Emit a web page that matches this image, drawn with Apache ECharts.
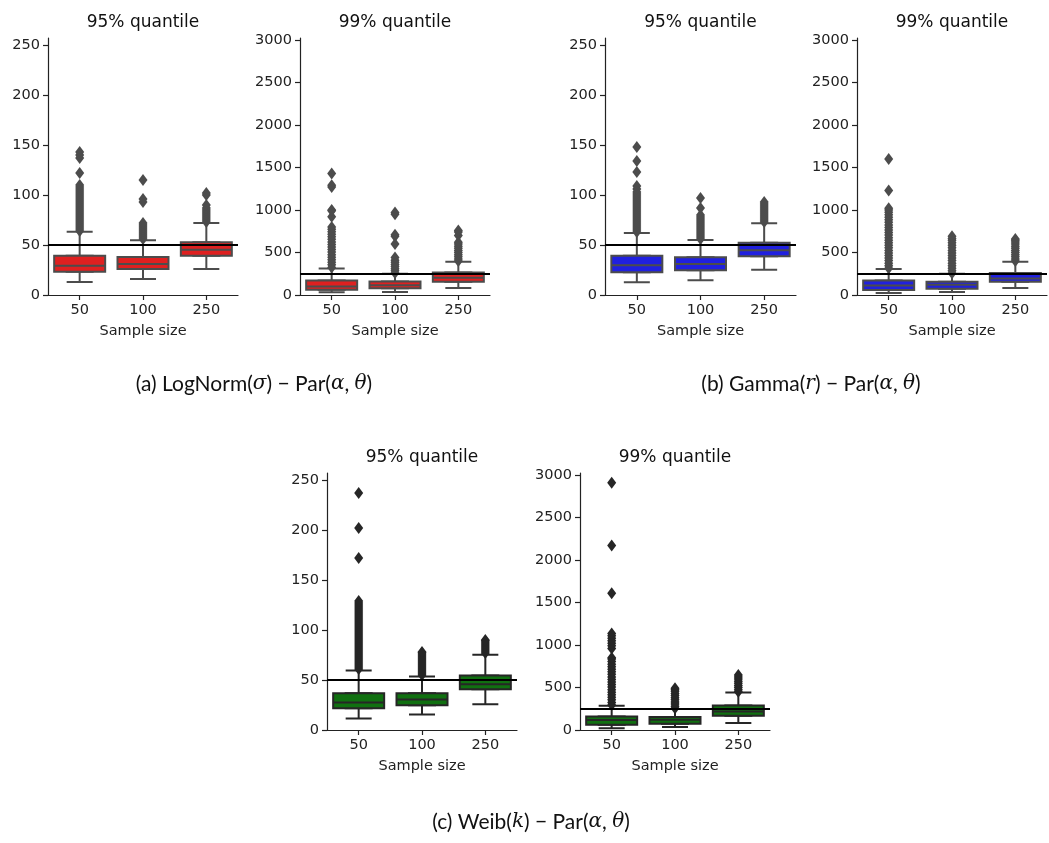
<!DOCTYPE html>
<html><head><meta charset="utf-8">
<script src="https://cdn.jsdelivr.net/npm/echarts@6/dist/echarts.min.js"></script>
<style>html,body{margin:0;padding:0;background:#fff}#c{width:1049px;height:843px}</style>
</head><body><div id="c"></div>
<script>
const categories = ['50', '100', '250'];
const yTicks95 = [0, 50, 100, 150, 200, 250];
const yTicks99 = [0, 500, 1000, 1500, 2000, 2500, 3000];
const yMax95 = 257;
const yMax99 = 3024;
const trueValue95 = 50;
const trueValue99 = 250;
const panelTitles = ['95% quantile', '99% quantile'];
const captions = ['(a) LogNorm({i|σ}) − Par({i|α}, {i|θ})', '(b) Gamma({i|r}) − Par({i|α}, {i|θ})', '(c) Weib({i|k}) − Par({i|α}, {i|θ})'];

// [lower whisker, Q1, median, Q3, upper whisker] per sample size
const statsA95 = [[13, 23.3, 29.3, 39.3, 63.3], [16, 26, 31, 38, 54.7], [26, 39.3, 45.3, 52.7, 72]];
const statsA99 = [[31, 62, 100, 170, 312], [35, 78, 115, 160, 250], [82, 156, 203, 266, 390]];
const statsB95 = [[12.7, 22.7, 29.7, 39.3, 62], [14.7, 24.7, 31, 37.7, 55], [25.3, 38.7, 44.7, 52.3, 71.7]];
const statsB99 = [[23, 59, 113, 172, 305], [35, 74, 120, 156, 250], [82, 156, 195, 258, 390]];
const statsC95 = [[11.4, 21.7, 27.4, 36.8, 59.5], [15.4, 24.7, 30.4, 36.8, 53.5], [25.7, 40.8, 45.8, 54.5, 75.2]];
const statsC99 = [[20, 62, 117, 160, 285], [35, 74, 121, 152, 246], [82, 168, 219, 289, 441]];

// outliers per sample size
const outliersA95 = [
  [64,66,68,70,72,74,76,78,80,82,84,86,88,90,92,94,96,98,100,102,104,106,108,110,122,137,140,143],
  [56,58,60,62,64,66,68,70,72,93,96,115],
  [73,75,77,79,81,83,85,87,90,100,102]
];
const outliersA99 = [
  [325,355,385,415,445,475,505,535,565,595,625,655,685,715,745,775,800,920,990,1000,1270,1290,1430],
  [260,285,310,335,360,385,410,440,600,690,710,950,970],
  [400,425,450,475,500,525,550,575,600,620,700,740,760]
];
const outliersB95 = [
  [63,65,67,69,71,73,75,77,79,81,83,85,87,89,91,93,95,97,99,101,103,106,109,123,134,148],
  [56,58,60,62,64,66,68,70,72,74,76,78,80,87,97],
  [73,75,77,79,81,83,85,87,89,91,93]
];
const outliersB99 = [
  [315,345,375,405,435,465,495,525,555,585,615,645,675,705,735,765,795,825,855,885,915,945,975,1000,1020,1230,1600],
  [255,285,315,345,375,405,435,465,495,525,555,585,615,645,665,690],
  [400,425,450,475,500,525,550,575,600,625,645,660]
];
const outliersC95 = [
  [61,63,65,67,69,71,73,75,77,79,81,83,85,87,89,91,93,95,97,99,101,103,105,107,109,111,113,115,117,119,121,123,125,127,129,172,202,237],
  [55,57,59,61,63,65,67,69,71,73,75,77,78],
  [77,79,81,83,85,87,89,90]
];
const outliersC99 = [
  [295,325,355,385,415,445,475,505,535,565,595,625,655,685,715,745,775,805,835,850,960,990,1020,1050,1080,1110,1135,1610,2170,2910],
  [255,280,305,330,355,380,405,430,455,475,490],
  [450,475,500,525,550,575,600,625,648]
];

const panels = [
  {stats: statsA95, out: outliersA95, q: 0, fill: '#df2020', line: '#4c4c4c'},
  {stats: statsA99, out: outliersA99, q: 1, fill: '#df2020', line: '#4c4c4c'},
  {stats: statsB95, out: outliersB95, q: 0, fill: '#2020df', line: '#4c4c4c'},
  {stats: statsB99, out: outliersB99, q: 1, fill: '#2020df', line: '#4c4c4c'},
  {stats: statsC95, out: outliersC95, q: 0, fill: '#107010', line: '#262626'},
  {stats: statsC99, out: outliersC99, q: 1, fill: '#107010', line: '#262626'}
];
const layout = [
  {left: 48, top: 38, width: 190, height: 257},
  {left: 300, top: 38, width: 190, height: 257},
  {left: 605, top: 38, width: 191, height: 257},
  {left: 857, top: 38, width: 190, height: 257},
  {left: 327, top: 473, width: 190, height: 257},
  {left: 580, top: 473, width: 190, height: 257}
];
const captionPos = [[254, 384], [811, 384], [531, 822]];

const axisColor = '#222';
const FONT = 'DejaVu Sans';
const grid = [], xAxis = [], yAxis = [], series = [], graphic = [];

panels.forEach((p, i) => {
  const L = layout[i];
  grid.push({left: L.left, top: L.top, width: L.width, height: L.height, outerBoundsMode: 'none', containLabel: false});
  xAxis.push({
    gridIndex: i, type: 'category', data: categories, boundaryGap: true,
    axisLine: {show: true, lineStyle: {color: axisColor, width: 1.2}},
    axisTick: {show: true, alignWithLabel: true, length: 5, lineStyle: {color: axisColor, width: 1.2}},
    axisLabel: {fontSize: 14.5, color: axisColor, margin: 8, fontFamily: FONT},
    splitLine: {show: false},
    name: 'Sample size', nameLocation: 'middle', nameGap: 29,
    nameTextStyle: {fontSize: 14.5, color: axisColor, fontFamily: FONT}
  });
  xAxis.push({gridIndex: i, type: 'category', data: categories, boundaryGap: true, show: false});
  const ticks = p.q === 0 ? yTicks95 : yTicks99;
  yAxis.push({
    gridIndex: i, type: 'value', min: 0, max: p.q === 0 ? yMax95 : yMax99,
    interval: p.q === 0 ? 50 : 500,
    axisLine: {show: true, lineStyle: {color: axisColor, width: 1.2}},
    axisTick: {show: true, length: 5, customValues: ticks, lineStyle: {color: axisColor, width: 1.2}},
    axisLabel: {customValues: ticks, fontSize: 14.5, color: axisColor, margin: 8, fontFamily: FONT,
      formatter: v => String(v)},
    splitLine: {show: false}
  });
  const style = {color: p.fill, borderColor: p.line, borderWidth: 2};
  series.push({
    type: 'boxplot', xAxisIndex: 2 * i, yAxisIndex: i, boxWidth: [26, 26],
    data: p.stats, itemStyle: style, silent: true, animation: false
  });
  series.push({
    type: 'boxplot', xAxisIndex: 2 * i + 1, yAxisIndex: i, boxWidth: [51, 51],
    data: p.stats.map(s => [s[1], s[1], s[2], s[3], s[3]]), itemStyle: style, silent: true, animation: false
  });
  const pts = [];
  p.out.forEach((arr, c) => arr.forEach(v => pts.push([c, v])));
  series.push({
    type: 'scatter', xAxisIndex: 2 * i, yAxisIndex: i, symbol: 'diamond', symbolSize: [9, 12],
    data: pts, itemStyle: {color: p.line, opacity: 1}, silent: true, animation: false,
    markLine: {
      silent: true, symbol: ['none', 'none'], label: {show: false}, animation: false,
      lineStyle: {color: '#000', width: 2, type: 'solid'},
      data: [{yAxis: p.q === 0 ? trueValue95 : trueValue99}]
    }
  });
  graphic.push({
    type: 'text', x: L.left + L.width / 2, y: L.top - 15,
    style: {text: panelTitles[p.q], font: '17px "DejaVu Sans"', fill: '#111',
      align: 'center', verticalAlign: 'middle', textAlign: 'center', textVerticalAlign: 'middle'}
  });
});

captions.forEach((t, k) => {
  graphic.push({
    type: 'text', x: captionPos[k][0], y: captionPos[k][1],
    style: {text: t, font: '21px Lato', fill: '#111',
      align: 'center', verticalAlign: 'middle', textAlign: 'center', textVerticalAlign: 'middle',
      rich: {i: {fontStyle: 'italic', fontFamily: 'DejaVu Serif', fontSize: 20, fill: '#111'}}}
  });
});

const chart = echarts.init(document.getElementById('c'), null, {renderer: 'canvas'});
chart.setOption({
  animation: false,
  backgroundColor: '#fff',
  textStyle: {fontFamily: FONT},
  grid, xAxis, yAxis, series, graphic
});
</script></body></html>
